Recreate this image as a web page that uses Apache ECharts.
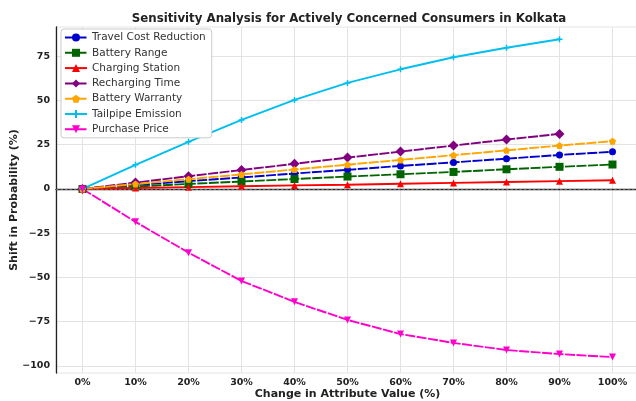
<!DOCTYPE html>
<html><head><meta charset="utf-8">
<script src="https://cdn.jsdelivr.net/npm/echarts@6/dist/echarts.min.js"></script>
<style>html,body{margin:0;padding:0;background:#fff}#c{width:636px;height:401px}</style>
</head><body><div id="c"></div>
<script>
const categories = ['0%','10%','20%','30%','40%','50%','60%','70%','80%','90%','100%'];
const travelCost = [0,2.2,4.4,6.5,8.7,10.8,13,15,17.1,19.2,21];
const batteryRange = [0,1.4,2.8,4.2,5.6,7,8.3,9.6,11.1,12.5,13.8];
const chargingStation = [0,0.5,1,1.5,2,2.4,2.9,3.4,3.9,4.4,4.9];
const rechargingTime = [0,3.6,7.2,10.7,14.2,17.7,21.1,24.5,27.9,31.1];
const batteryWarranty = [0,2.75,5.5,8.2,11,13.7,16.4,19.1,21.8,24.5,27];
const tailpipe = [0,13.6,26.6,39,50.3,59.9,67.6,74.4,79.8,84.6];
const purchasePrice = [0,-18.6,-36,-52,-63.8,-74,-82,-87,-91,-93.3,-95];
const yTicks = [-100,-75,-50,-25,0,25,50,75];

const chart = echarts.init(document.getElementById('c'));
const font = 'DejaVu Sans';
function s(name, data, color, symbol, size, dashed){
  return {name, type:'line', data, color, symbol, symbolSize:size, showSymbol:true,
    lineStyle:{width:1.9, color, type: dashed ? [10,1.5] : 'solid'},
    itemStyle:{color}, z: 3};
}
const series = [
  s('Travel Cost Reduction', travelCost, '#0000CD', 'circle', 7, true),
  s('Battery Range', batteryRange, '#006400', 'rect', 8, true),
  s('Charging Station', chargingStation, '#FF0000', 'triangle', 7, false),
  s('Recharging Time', rechargingTime, '#800080', 'diamond', 10, true),
  s('Battery Warranty', batteryWarranty, '#FFA500', 'path://M0,-1L0.95,-0.31L0.59,0.81L-0.59,0.81L-0.95,-0.31Z', 7, true),
  s('Tailpipe Emission', tailpipe, '#00BFEF', 'path://M-1,-0.25L-0.25,-0.25L-0.25,-1L0.25,-1L0.25,-0.25L1,-0.25L1,0.25L0.25,0.25L0.25,1L-0.25,1L-0.25,0.25L-1,0.25Z', 6, false),
  s('Purchase Price', purchasePrice, '#FF00CC', 'path://M-1,-0.8L1,-0.8L0,1Z', 7, true)
];
series[0].markLine = {silent:true, symbol:'none', label:{show:false},
  lineStyle:{color:'#666', type:[2.5,2], width:1.2}, data:[{yAxis:0}]};

chart.setOption({
  animation:false,
  backgroundColor:'#fff',
  title:{text:'Sensitivity Analysis for Actively Concerned Consumers in Kolkata', left:344, top:8, textAlign:'center',
    textStyle:{fontFamily:font, fontSize:11.8, fontWeight:'bold', color:'#222'}},
  legend:{orient:'vertical', left:61, top:29, itemGap:4.3, itemWidth:22, itemHeight:10,
    backgroundColor:'#fff', borderColor:'#ccc', borderWidth:1, borderRadius:3, padding:[3,6,3,3],
    textStyle:{fontFamily:font, fontSize:10.5, color:'#333'}, data: series.map(x=>x.name)},
  grid:{left:56, top:27, width:583, height:346, show:true, borderColor:'#e5e5e5', borderWidth:1,
    containLabel:false, outerBoundsMode:'none'},
  xAxis:{type:'category', data:categories, boundaryGap:true,
    name:'Change in Attribute Value (%)', nameLocation:'middle', nameGap:16, nameMoveOverlap:false,
    nameTextStyle:{fontFamily:font, fontSize:11, fontWeight:'bold', color:'#222'},
    axisLine:{lineStyle:{color:'#222', width:1.3}},
    axisTick:{show:false, alignWithLabel:true},
    axisLabel:{fontFamily:font, fontSize:9.5, fontWeight:'bold', color:'#222', margin:5},
    splitLine:{show:true, alignWithLabel:true, lineStyle:{color:'#e3e3e3', width:1}}},
  yAxis:{type:'value', min:-104, max:91.5,
    name:'Shift in Probability (%)', nameLocation:'middle', nameGap:36, nameMoveOverlap:false,
    nameTextStyle:{fontFamily:font, fontSize:11, fontWeight:'bold', color:'#222'},
    axisLine:{show:true, lineStyle:{color:'#222', width:1.3}},
    axisTick:{show:false, customValues:yTicks},
    axisLabel:{fontFamily:font, fontSize:9.5, fontWeight:'bold', color:'#222', customValues:yTicks, margin:6,
      formatter: v => v < 0 ? '\u2212' + Math.abs(v) : String(v)},
    splitLine:{show:true, lineStyle:{color:'#e3e3e3', width:1}}},
  series
});
</script></body></html>
